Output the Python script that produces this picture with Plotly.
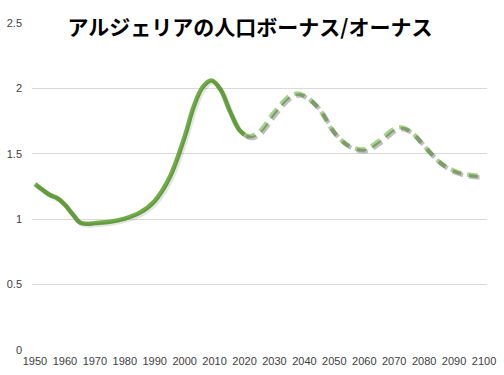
import plotly.graph_objects as go

# Observed (solid) series
years_obs = [1950, 1952.5, 1955, 1957.5, 1960, 1962.5, 1965, 1967.5, 1970, 1975,
             1980, 1985, 1990, 1995, 2000, 2003, 2006, 2009, 2012, 2015, 2018, 2020]
ratio_obs = [1.27, 1.225, 1.185, 1.16, 1.11, 1.04, 0.975, 0.965, 0.97, 0.98,
             1.005, 1.05, 1.14, 1.32, 1.63, 1.86, 2.01, 2.06, 1.99, 1.83, 1.69, 1.645]

# Projected (dashed) series
years_proj = [2020, 2022, 2025, 2030, 2035, 2038, 2041, 2045, 2050, 2055, 2060,
              2065, 2070, 2073, 2076, 2080, 2085, 2090, 2095, 2100]
ratio_proj = [1.645, 1.635, 1.67, 1.82, 1.94, 1.96, 1.93, 1.84, 1.66, 1.56, 1.535,
              1.60, 1.69, 1.70, 1.66, 1.56, 1.44, 1.37, 1.34, 1.33]

x_ticks = list(range(1950, 2101, 10))
y_ticks = [0, 0.5, 1, 1.5, 2, 2.5]
y_tick_text = ["0", "0.5", "1", "1.5", "2", "2.5"]

title_text = "アルジェリアの人口ボーナス/オーナス"

XR = [1949, 2101]
YR = [0, 2.5]
# shadow offset (in data units, ~2px)
dx = 0.6
dy = 0.014

fig = go.Figure()

# shadows
fig.add_trace(go.Scatter(x=years_obs, y=ratio_obs, mode="lines",
                         line=dict(color="rgba(0,0,0,0.10)", width=4.5, shape="spline", smoothing=1),
                         xaxis="x2", yaxis="y2", hoverinfo="skip", showlegend=False))
fig.add_trace(go.Scatter(x=years_proj, y=ratio_proj, mode="lines",
                         line=dict(color="rgba(0,0,0,0.25)", width=4.5, shape="spline", smoothing=1,
                                   dash="11px,6px"),
                         xaxis="x2", yaxis="y2", hoverinfo="skip", showlegend=False))

fig.add_trace(go.Scatter(x=years_obs, y=ratio_obs, mode="lines",
                         line=dict(color="#70ad47", width=4.5, shape="spline", smoothing=1),
                         showlegend=False))
fig.add_trace(go.Scatter(x=years_proj, y=ratio_proj, mode="lines",
                         line=dict(color="#a9d18e", width=4.5, shape="spline", smoothing=1,
                                   dash="11px,6px"),
                         showlegend=False))

tick_font = dict(family="Liberation Sans, Arial, sans-serif", size=11, color="#404040")

fig.update_layout(
    width=504, height=375,
    margin=dict(l=32, r=17, t=23, b=25, autoexpand=False),
    paper_bgcolor="white", plot_bgcolor="white",
    title=dict(text=title_text, x=250 / 504, xanchor="center", xref="container",
               y=1 - 28 / 375, yanchor="middle", yref="container",
               font=dict(family="Noto Sans CJK JP", size=21, color="black", weight="bold")),
    xaxis=dict(range=XR, tickmode="array", tickvals=x_ticks, showgrid=False,
               zeroline=False, showline=False, ticks="", tickfont=tick_font,
               ticklabelstandoff=3, automargin=False),
    yaxis=dict(range=YR, tickmode="array", tickvals=y_ticks, ticktext=y_tick_text,
               showgrid=True, gridcolor="#d9d9d9", gridwidth=1, zeroline=False,
               showline=False, ticks="", tickfont=tick_font, ticklabelstandoff=9,
               automargin=False),
    xaxis2=dict(range=[XR[0] - dx, XR[1] - dx], overlaying="x", visible=False),
    yaxis2=dict(range=[YR[0] + dy, YR[1] + dy], overlaying="y", visible=False),
)

fig.write_html("out.html", config={"displayModeBar": False},
               post_script="document.body.style.margin='0';document.body.style.overflow='hidden';")
